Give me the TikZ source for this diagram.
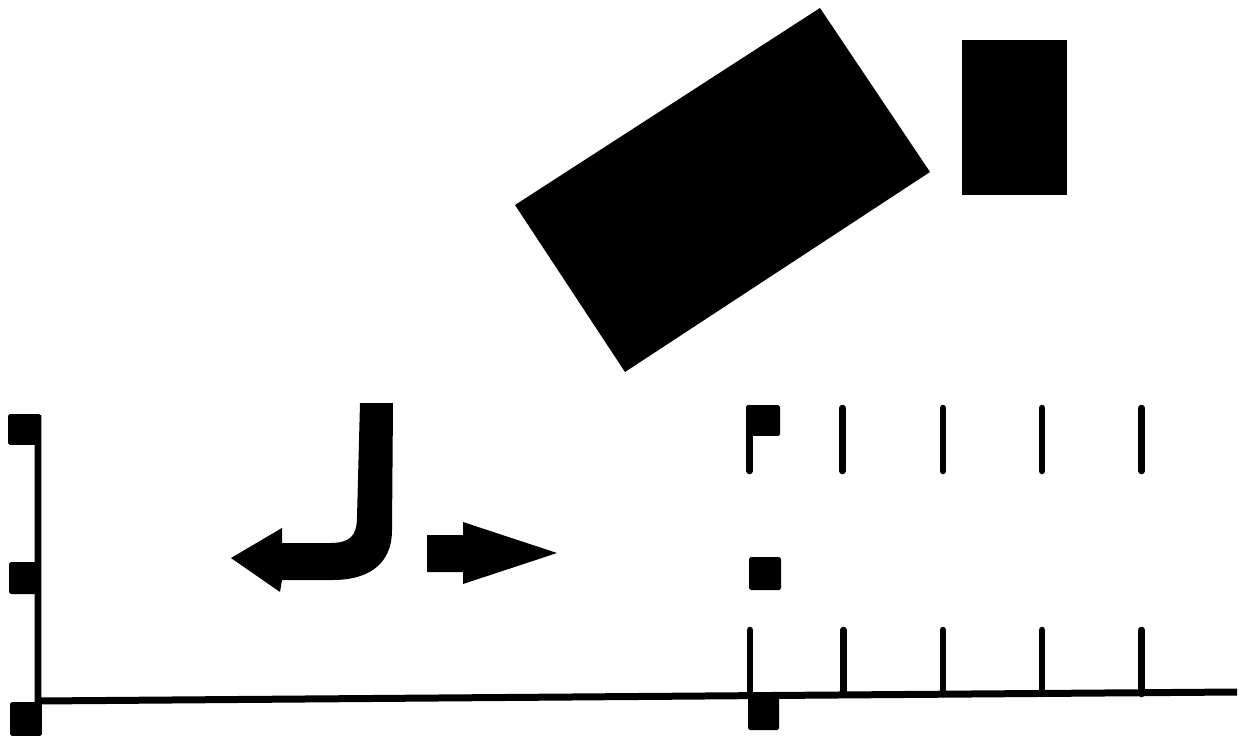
\documentclass[tikz,border=0pt]{standalone}
\usetikzlibrary{positioning}
\tikzset{
  marker/.style={fill=black,inner sep=0pt,rounded corners=1pt},
  axisline/.style={draw=black,line width=0.14cm},
  tickline/.style={draw=black,line width=0.13cm,line cap=round},
  solid block/.style={fill=black}
}

\begin{document}
\begin{tikzpicture}[x=0.02cm,y=-0.02cm]
  \useasboundingbox (0,0) rectangle (1243,736);

  % Blocos superiores: retangulo inclinado e retangulo vertical.
  \fill[solid block] (820,8) -- (930,172) -- (625,372) -- (515,205) -- cycle;
  \node[marker,minimum width=2.10cm,minimum height=3.10cm,rounded corners=0pt]
    (bloco) at (1014.5,117.5) {};

  % Eixos: vertical a esquerda e linha de base.
  \coordinate (eixo-topo) at (38,415);
  \coordinate (origem) at (38,701);
  \coordinate (base-fim) at (1237,692);
  \draw[axisline] (eixo-topo) -- (origem) -- (base-fim);

  % Marcadores quadrados do eixo vertical.
  \node[marker,minimum width=0.66cm,minimum height=0.62cm] (eixo-a) at (24.5,429.5) {};
  \node[marker,minimum width=0.62cm,minimum height=0.64cm] (eixo-b) at (24.5,578) {};
  \node[marker,minimum width=0.64cm,minimum height=0.68cm] (eixo-c) at (26,719) {};

  % Marcadores da regua a direita.
  \node[marker,minimum width=0.68cm,minimum height=0.62cm] (bandeira) at (763,420.5) {};
  \node[marker,minimum width=0.64cm,minimum height=0.66cm] (meio) at (765,573.5) {};
  \node[marker,minimum width=0.62cm,minimum height=0.70cm] (base-marca) at (763.5,712.5) {};

  % Tracos superiores e inferiores da regua.
  \foreach \x in {749.5,842.5,943,1042,1141.5}
    \draw[tickline] (\x,408) -- (\x,471);
  \foreach \x in {750,843.5,943,1042,1141.5}
    \draw[tickline] (\x,630) -- (\x,694);

  % Seta em J apontando para a esquerda.
  \fill[solid block] (360,403) -- (393,403) -- (392,530)
    .. controls (392,566) and (366,580) .. (333,580)
    -- (282,580) -- (280,592) -- (231,558) -- (282,528) -- (282,543)
    -- (330,543) .. controls (350,543) and (357,536) .. (357,517) -- cycle;

  % Seta reta apontando para a direita.
  \fill[solid block] (427,535) -- (463,535) -- (463,522) -- (557,553)
    -- (463,584) -- (463,572) -- (427,572) -- cycle;
\end{tikzpicture}
\end{document}
